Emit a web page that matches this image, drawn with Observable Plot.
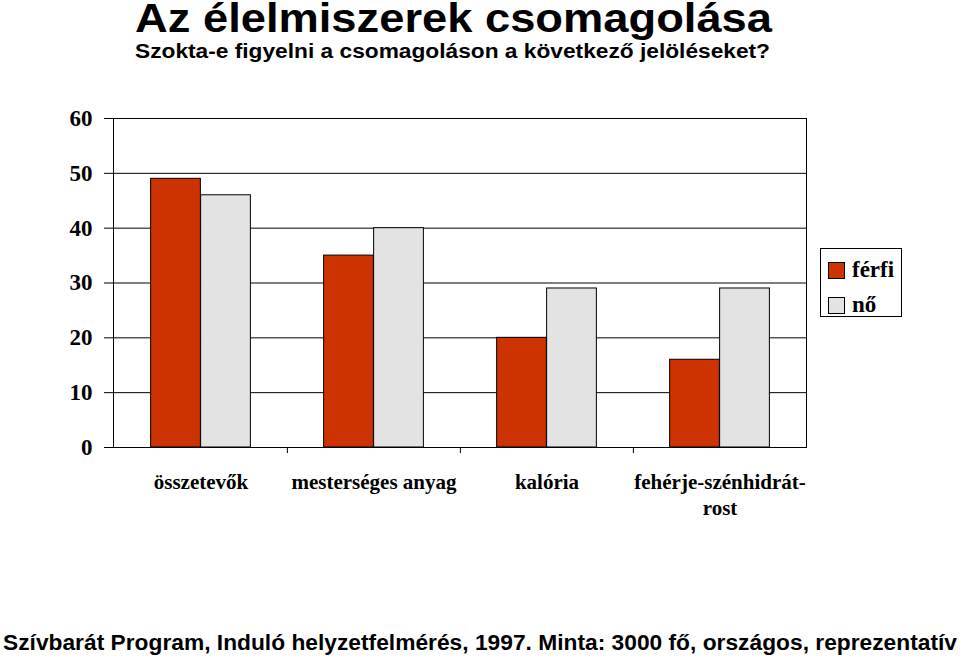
<!DOCTYPE html>
<html><head><meta charset="utf-8">
<script src="https://cdn.jsdelivr.net/npm/d3@7"></script>
<script src="https://cdn.jsdelivr.net/npm/@observablehq/plot@0.6"></script>
<style>
body{margin:0;background:#fff;}
#wrap{position:relative;width:960px;height:659px;overflow:hidden;background:#fff;}
.t{position:absolute;font-family:"Liberation Sans",Arial,sans-serif;font-weight:bold;color:#000;white-space:nowrap;line-height:1;transform-origin:0 0;}
#chart{position:absolute;left:0;top:0;}
#legend{position:absolute;left:820px;top:248px;width:80px;height:67px;border:1px solid #000;background:#fff;font-family:"Liberation Serif","Times New Roman",serif;font-weight:bold;font-size:23px;}
.item{position:absolute;left:7px;height:24px;}
.sw{position:absolute;left:0;top:3px;width:15px;height:15px;border:1px solid #000;box-sizing:content-box;}
.lab{position:absolute;left:24px;top:-1px;line-height:1;white-space:nowrap;}
</style></head><body><div id="wrap">
<div id="chart"></div>
<div class="t" id="title" style="left:135px;top:2px;font-size:40.5px;line-height:0.8;" data-w="637">Az élelmiszerek csomagolása</div>
<div class="t" id="subtitle" style="left:135px;top:41px;font-size:20px;" data-w="635">Szokta-e figyelni a csomagoláson a következő jelöléseket?</div>
<div class="t" id="footer" style="left:3px;top:632px;font-size:22.4px;" data-w="954">Szívbarát Program, Induló helyzetfelmérés, 1997. Minta: 3000 fő, országos, reprezentatív</div>
<div id="legend"></div>
</div>
<script>
const categories = ["összetevők", "mesterséges anyag", "kalória", "fehérje-szénhidrát-rost"];
const tickLabels = ["összetevők", "mesterséges anyag", "kalória", "fehérje-szénhidrát-\nrost"];
const series = ["férfi", "nő"];
const ferfi = [49, 35, 20, 16];
const no = [46, 40, 29, 29];
const colors = ["#cc3300", "#e3e3e3"];
const yTicks = [0, 10, 20, 30, 40, 50, 60];

const rows = categories.map((c, i) => ({category: c, ferfi: ferfi[i], no: no[i]}));

const W = 960, H = 659, mL = 113, mR = 154, mT = 118, mB = 212;
const step = (W - mL - mR) / categories.length;
const barW = 50;
const inset = (step - barW) / 2;

const chart = Plot.plot({
  width: W, height: H,
  marginLeft: mL, marginRight: mR, marginTop: mT, marginBottom: mB,
  style: {fontFamily: "'Liberation Serif', 'Times New Roman', serif", fontWeight: "bold", fontSize: "21px", color: "#000", background: "transparent"},
  x: {domain: categories, padding: 0, label: null},
  y: {domain: [0, 60], label: null},
  marks: [
    Plot.gridY(yTicks, {stroke: "#000", strokeOpacity: 1, strokeWidth: 1}),
    Plot.barY(rows, {x: "category", y: "ferfi", fill: colors[0], stroke: "#000", strokeWidth: 1, insetLeft: inset, insetRight: inset, dx: -barW / 2}),
    Plot.barY(rows, {x: "category", y: "no", fill: colors[1], stroke: "#000", strokeWidth: 1, insetLeft: inset, insetRight: inset, dx: barW / 2}),
    Plot.frame({stroke: "#000", strokeWidth: 1}),
    Plot.ruleX(categories.slice(1), {x: d => d, dx: -step / 2, y1: 0, y2: -1.1, stroke: "#000"}),
    Plot.axisY({ticks: yTicks, tickSize: 9, tickPadding: 12, fontSize: 23, fontWeight: "bold", stroke: "#000"}),
    Plot.axisX({tickSize: 0, tickPadding: 23, fontSize: 21, fontWeight: "bold", lineHeight: 1.24, tickFormat: d => tickLabels[categories.indexOf(d)]})
  ]
});
document.getElementById("chart").appendChild(chart);

const legend = document.getElementById("legend");
series.forEach((s, i) => {
  const it = document.createElement("div");
  it.className = "item";
  it.style.top = (10 + i * 35) + "px";
  it.innerHTML = `<div class="sw" style="background:${colors[i]}"></div><div class="lab">${s}</div>`;
  legend.appendChild(it);
});

document.querySelectorAll(".t").forEach(el => {
  const target = +el.dataset.w;
  const w = el.getBoundingClientRect().width;
  if (w > 0) el.style.transform = `scaleX(${target / w})`;
});
</script>
</body></html>
